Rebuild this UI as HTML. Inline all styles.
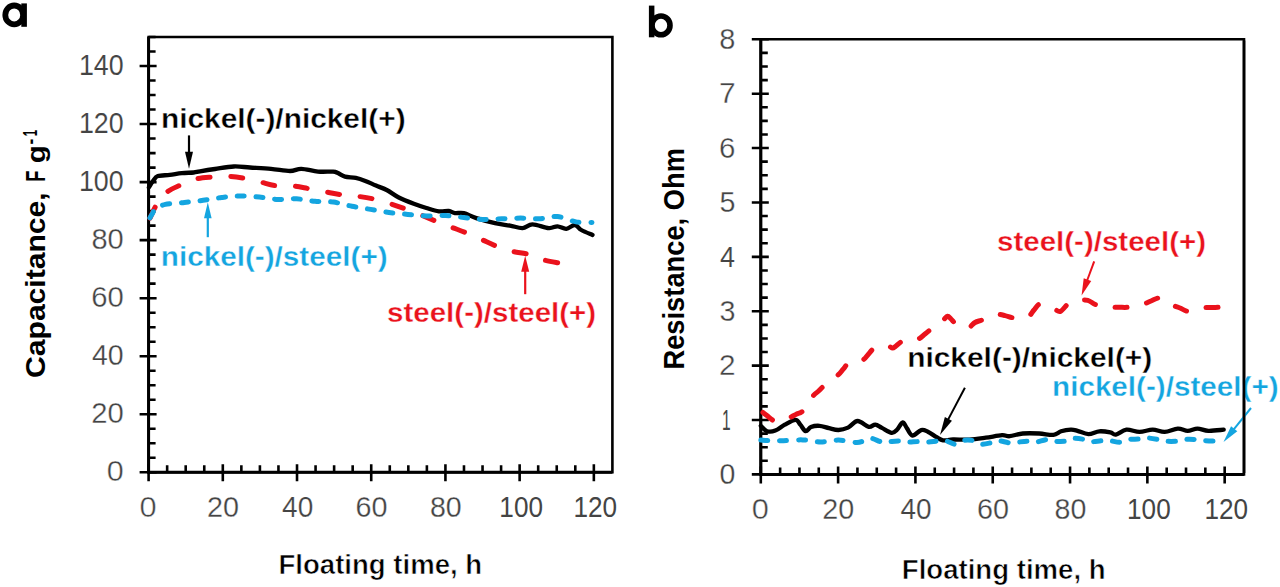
<!DOCTYPE html>
<html><head><meta charset="utf-8"><title>Capacitance and resistance vs floating time</title>
<style>
html,body{margin:0;padding:0;background:#fff;}
body{width:1280px;height:587px;overflow:hidden;}
svg{display:block;font-family:"Liberation Sans",sans-serif;font-kerning:none;font-variant-ligatures:none;}
</style></head><body>
<svg width="1280" height="587" viewBox="0 0 1280 587">
<rect width="1280" height="587" fill="#fff"/>
<path d="M148.6 37H612.4V472.3H148.6Z" fill="none" stroke="#000" stroke-width="2.6" stroke-linejoin="miter"/>
<path d="M148.6 37V472.3H612.4" fill="none" stroke="#000" stroke-width="3"/>
<path d="M139.6 472.3H156.6M148.6 457.79H155.6M148.6 443.28H155.6M148.6 428.77H155.6M139.6 414.26H156.6M148.6 399.75H155.6M148.6 385.24H155.6M148.6 370.73H155.6M139.6 356.22H156.6M148.6 341.71H155.6M148.6 327.2H155.6M148.6 312.69H155.6M139.6 298.18H156.6M148.6 283.67H155.6M148.6 269.16H155.6M148.6 254.65H155.6M139.6 240.14H156.6M148.6 225.63H155.6M148.6 211.12H155.6M148.6 196.61H155.6M139.6 182.1H156.6M148.6 167.59H155.6M148.6 153.08H155.6M148.6 138.57H155.6M139.6 124.06H156.6M148.6 109.55H155.6M148.6 95.04H155.6M148.6 80.53H155.6M139.6 66.02H156.6M148.6 51.51H155.6M148.6 37H155.6M148.6 464.3V481.3M167.15 465.3V472.3M185.7 465.3V472.3M204.26 465.3V472.3M222.81 464.3V481.3M241.36 465.3V472.3M259.91 465.3V472.3M278.46 465.3V472.3M297.02 464.3V481.3M315.57 465.3V472.3M334.12 465.3V472.3M352.67 465.3V472.3M371.22 464.3V481.3M389.78 465.3V472.3M408.33 465.3V472.3M426.88 465.3V472.3M445.43 464.3V481.3M463.98 465.3V472.3M482.54 465.3V472.3M501.09 465.3V472.3M519.64 464.3V481.3M538.19 465.3V472.3M556.74 465.3V472.3M575.3 465.3V472.3M593.85 464.3V481.3" fill="none" stroke="#000" stroke-width="2.6"/>
<text transform="matrix(0.3054 0 0 0.2965 106.81 481.3)" font-size="100" font-weight="normal" fill="#444" stroke="#fff" stroke-width="1.42">0</text>
<text transform="matrix(0.2923 0 0 0.2965 91.23 423.26)" font-size="100" font-weight="normal" fill="#444" stroke="#fff" stroke-width="1.09">20</text>
<text transform="matrix(0.2847 0 0 0.2965 92.05 365.22)" font-size="100" font-weight="normal" fill="#444" stroke="#fff" stroke-width="0.89">40</text>
<text transform="matrix(0.2924 0 0 0.2965 91.21 307.18)" font-size="100" font-weight="normal" fill="#444" stroke="#fff" stroke-width="1.09">60</text>
<text transform="matrix(0.2904 0 0 0.2965 91.44 249.14)" font-size="100" font-weight="normal" fill="#444" stroke="#fff" stroke-width="1.04">80</text>
<text transform="matrix(0.2678 0 0 0.2965 78.96 191.1)" font-size="100" font-weight="normal" fill="#444" stroke="#fff" stroke-width="0.39">100</text>
<text transform="matrix(0.2678 0 0 0.2965 78.96 133.06)" font-size="100" font-weight="normal" fill="#444" stroke="#fff" stroke-width="0.39">120</text>
<text transform="matrix(0.2678 0 0 0.2965 78.96 75.02)" font-size="100" font-weight="normal" fill="#444" stroke="#fff" stroke-width="0.39">140</text>
<text transform="matrix(0.3075 0 0 0.2993 139.55 516.9)" font-size="100" font-weight="normal" fill="#444" stroke="#fff" stroke-width="1.47">0</text>
<text transform="matrix(0.2874 0 0 0.2993 207.06 516.9)" font-size="100" font-weight="normal" fill="#444" stroke="#fff" stroke-width="0.96">20</text>
<text transform="matrix(0.2799 0 0 0.2993 282.07 516.9)" font-size="100" font-weight="normal" fill="#444" stroke="#fff" stroke-width="0.75">40</text>
<text transform="matrix(0.2875 0 0 0.2993 355.46 516.9)" font-size="100" font-weight="normal" fill="#444" stroke="#fff" stroke-width="0.96">60</text>
<text transform="matrix(0.2855 0 0 0.2993 429.89 516.9)" font-size="100" font-weight="normal" fill="#444" stroke="#fff" stroke-width="0.91">80</text>
<text transform="matrix(0.2614 0 0 0.2993 499.35 516.9)" font-size="100" font-weight="normal" fill="#444">100</text>
<text transform="matrix(0.2614 0 0 0.2993 573.56 516.9)" font-size="100" font-weight="normal" fill="#444">120</text>
<path d="M148.9 187.4C149.6 186.32 151.6 182.78 153.1 180.9C154.6 179.02 155.12 177.1 157.9 176.1C160.68 175.1 165.82 175.4 169.8 174.9C173.78 174.4 177.82 173.5 181.8 173.1C185.78 172.7 190.67 172.8 193.7 172.5C196.73 172.2 196.45 171.88 200 171.3C203.55 170.72 209.37 169.8 215 169C220.63 168.2 227.97 166.75 233.8 166.5C239.63 166.25 243.8 167.12 250 167.5C256.2 167.88 264.33 168.22 271 168.8C277.67 169.38 284.95 171 290 171C295.05 171 296.63 168.7 301.3 168.8C305.97 168.9 312.7 171.12 318 171.6C323.3 172.08 329.78 171.45 333.1 171.7C336.42 171.95 335.92 172.27 337.9 173.1C339.88 173.93 342.02 175.9 345 176.7C347.98 177.5 352.42 177.2 355.8 177.9C359.18 178.6 361.93 179.62 365.3 180.9C368.67 182.18 372.43 184.08 376 185.6C379.57 187.12 382.9 188.02 386.7 190C390.5 191.98 394.28 195.2 398.8 197.5C403.32 199.8 409.2 202.05 413.8 203.8C418.4 205.55 422.23 206.75 426.4 208C430.57 209.25 435.07 210.8 438.8 211.3C442.53 211.8 446.1 210.7 448.8 211C451.5 211.3 452.5 212.75 455 213.1C457.5 213.45 460.25 212.27 463.8 213.1C467.35 213.93 471.1 216.43 476.3 218.1C481.5 219.77 489.38 221.85 495 223.1C500.62 224.35 505.42 224.77 510 225.6C514.58 226.43 518.75 228.3 522.5 228.1C526.25 227.9 528.12 224.4 532.5 224.4C536.88 224.4 544.63 227.78 548.8 228.1C552.97 228.42 554.58 226.18 557.5 226.3C560.42 226.42 563.38 229.02 566.3 228.8C569.22 228.58 572.5 224.8 575 225C577.5 225.2 578.38 228.33 581.3 230C584.22 231.67 590.63 234.17 592.5 235" fill="none" stroke="#000" stroke-width="4.3" stroke-linecap="round" stroke-linejoin="round"/>
<path d="M148.9 220.8C150 218.42 152.82 211.07 155.5 206.5C158.18 201.93 160.82 196.98 165 193.4C169.18 189.82 175.6 187.38 180.6 185C185.6 182.62 189.77 180.43 195 179.1C200.23 177.77 206.5 177.47 212 177C217.5 176.53 222.83 176.13 228 176.3C233.17 176.47 237.67 177.07 243 178C248.33 178.93 254.67 180.63 260 181.9C265.33 183.17 269.5 184.92 275 185.6C280.5 186.28 287.37 185.48 293 186C298.63 186.52 303.37 187.72 308.8 188.7C314.23 189.68 320.08 190.88 325.6 191.9C331.12 192.92 336.58 194.07 341.9 194.8C347.22 195.53 352.18 195.6 357.5 196.3C362.82 197 368.28 197.75 373.8 199C379.32 200.25 385.4 202.17 390.6 203.8C395.8 205.43 399.93 206.93 405 208.8C410.07 210.67 415.78 212.92 421 215C426.22 217.08 431.37 219.32 436.3 221.3C441.23 223.28 445.5 224.93 450.6 226.9C455.7 228.87 461.78 231.02 466.9 233.1C472.02 235.18 476.3 237.2 481.3 239.4C486.3 241.6 491.8 244.32 496.9 246.3C502 248.28 506.58 249.95 511.9 251.3C517.22 252.65 523.6 252.98 528.8 254.4C534 255.82 538 258.35 543.1 259.8C548.2 261.25 556.68 262.55 559.4 263.1" fill="none" stroke="#ea121c" stroke-width="5" stroke-linecap="round" stroke-linejoin="round" stroke-dasharray="12 20.8" stroke-dashoffset="29.9"/>
<path d="M148.9 219.6C149.45 218.67 151.1 215.78 152.2 214C153.3 212.22 153.32 210.5 155.5 208.9C157.68 207.3 160.48 205.47 165.3 204.4C170.12 203.33 178.1 203.18 184.4 202.5C190.7 201.82 196.9 201.13 203.1 200.3C209.3 199.47 215.4 198.22 221.6 197.5C227.8 196.78 234 196.07 240.3 196C246.6 195.93 253.15 196.53 259.4 197.1C265.65 197.67 271.6 199.12 277.8 199.4C284 199.68 290.4 198.48 296.6 198.8C302.8 199.12 308.87 200.75 315 201.3C321.13 201.85 327.25 201.27 333.4 202.1C339.55 202.93 345.7 205.08 351.9 206.3C358.1 207.52 364.42 208.37 370.6 209.4C376.78 210.43 382.8 211.67 389 212.5C395.2 213.33 401.53 213.82 407.8 214.4C414.07 214.98 420.3 215.8 426.6 216C432.9 216.2 439.4 215.35 445.6 215.6C451.8 215.85 457.6 216.87 463.8 217.5C470 218.13 476.5 219.18 482.8 219.4C489.1 219.62 495.3 219.02 501.6 218.8C507.9 218.58 514.37 218.1 520.6 218.1C526.83 218.1 532.85 219.07 539 218.8C545.15 218.53 551.33 215.98 557.5 216.5C563.67 217.02 570.25 220.9 576 221.9C581.75 222.9 589.33 222.4 592 222.5" fill="none" stroke="#14a5e0" stroke-width="5" stroke-linecap="round" stroke-linejoin="round" stroke-dasharray="7 11.75" stroke-dashoffset="16.6"/>
<text transform="matrix(0.2986 0 0 0.2746 160.93 127.5)" font-size="100" font-weight="bold" fill="#000" stroke="#fff" stroke-width="1.33">nickel(-)/nickel(+)</text>
<text transform="matrix(0.2971 0 0 0.2691 160.74 266.4)" font-size="100" font-weight="bold" fill="#14a5e0" stroke="#fff" stroke-width="1.27">nickel(-)/steel(+)</text>
<text transform="matrix(0.2951 0 0 0.2733 387.06 321.8)" font-size="100" font-weight="bold" fill="#ea121c" stroke="#fff" stroke-width="1.18">steel(-)/steel(+)</text>
<line x1="189" y1="135.4" x2="189" y2="152.8" stroke="#000" stroke-width="2.2"/>
<polygon points="189,168.8 185,151.8 193,151.8" fill="#000"/>
<line x1="207.8" y1="237.2" x2="207.8" y2="217.3" stroke="#14a5e0" stroke-width="2.2"/>
<polygon points="207.8,202.3 211.6,218.3 204,218.3" fill="#14a5e0"/>
<line x1="525.2" y1="294.2" x2="525.2" y2="270.8" stroke="#ea121c" stroke-width="2.2"/>
<polygon points="525.2,255.8 529.2,271.8 521.2,271.8" fill="#ea121c"/>
<path d="M760.8 39.3H1244V474.4H760.8Z" fill="none" stroke="#000" stroke-width="2.6" stroke-linejoin="miter"/>
<path d="M760.8 39.3V474.4H1244" fill="none" stroke="#000" stroke-width="3"/>
<path d="M751.8 474.4H768.8M760.8 460.8H767.8M760.8 447.21H767.8M760.8 433.61H767.8M751.8 420.01H768.8M760.8 406.42H767.8M760.8 392.82H767.8M760.8 379.22H767.8M751.8 365.62H768.8M760.8 352.03H767.8M760.8 338.43H767.8M760.8 324.83H767.8M751.8 311.24H768.8M760.8 297.64H767.8M760.8 284.04H767.8M760.8 270.45H767.8M751.8 256.85H768.8M760.8 243.25H767.8M760.8 229.66H767.8M760.8 216.06H767.8M751.8 202.46H768.8M760.8 188.87H767.8M760.8 175.27H767.8M760.8 161.67H767.8M751.8 148.07H768.8M760.8 134.48H767.8M760.8 120.88H767.8M760.8 107.28H767.8M751.8 93.69H768.8M760.8 80.09H767.8M760.8 66.49H767.8M760.8 52.9H767.8M751.8 39.3H768.8M760.8 466.4V483.4M780.13 467.4V474.4M799.46 467.4V474.4M818.78 467.4V474.4M838.11 466.4V483.4M857.44 467.4V474.4M876.77 467.4V474.4M896.1 467.4V474.4M915.42 466.4V483.4M934.75 467.4V474.4M954.08 467.4V474.4M973.41 467.4V474.4M992.74 466.4V483.4M1012.06 467.4V474.4M1031.39 467.4V474.4M1050.72 467.4V474.4M1070.05 466.4V483.4M1089.38 467.4V474.4M1108.7 467.4V474.4M1128.03 467.4V474.4M1147.36 466.4V483.4M1166.69 467.4V474.4M1186.02 467.4V474.4M1205.34 467.4V474.4M1224.67 466.4V483.4" fill="none" stroke="#000" stroke-width="2.6"/>
<text transform="matrix(0.2845 0 0 0.2965 719.49 484.1)" font-size="100" font-weight="normal" fill="#444" stroke="#fff" stroke-width="0.88">0</text>
<text transform="matrix(0.1554 0 0 0.2965 722.12 429.71)" font-size="100" font-weight="normal" fill="#444">1</text>
<text transform="matrix(0.2985 0 0 0.2965 719.1 375.32)" font-size="100" font-weight="normal" fill="#444" stroke="#fff" stroke-width="1.25">2</text>
<text transform="matrix(0.2868 0 0 0.2965 719.51 320.94)" font-size="100" font-weight="normal" fill="#444" stroke="#fff" stroke-width="0.95">3</text>
<text transform="matrix(0.2699 0 0 0.2965 719.98 266.55)" font-size="100" font-weight="normal" fill="#444" stroke="#fff" stroke-width="0.45">4</text>
<text transform="matrix(0.2868 0 0 0.2965 719.45 212.16)" font-size="100" font-weight="normal" fill="#444" stroke="#fff" stroke-width="0.95">5</text>
<text transform="matrix(0.2947 0 0 0.2965 719.1 157.77)" font-size="100" font-weight="normal" fill="#444" stroke="#fff" stroke-width="1.16">6</text>
<text transform="matrix(0.2992 0 0 0.2965 719.07 103.39)" font-size="100" font-weight="normal" fill="#444" stroke="#fff" stroke-width="1.27">7</text>
<text transform="matrix(0.2898 0 0 0.2965 719.34 49)" font-size="100" font-weight="normal" fill="#444" stroke="#fff" stroke-width="1.03">8</text>
<text transform="matrix(0.3075 0 0 0.2879 751.75 519.3)" font-size="100" font-weight="normal" fill="#444" stroke="#fff" stroke-width="1.47">0</text>
<text transform="matrix(0.2874 0 0 0.2879 822.37 519.3)" font-size="100" font-weight="normal" fill="#444" stroke="#fff" stroke-width="0.96">20</text>
<text transform="matrix(0.2799 0 0 0.2879 900.48 519.3)" font-size="100" font-weight="normal" fill="#444" stroke="#fff" stroke-width="0.75">40</text>
<text transform="matrix(0.2875 0 0 0.2879 976.98 519.3)" font-size="100" font-weight="normal" fill="#444" stroke="#fff" stroke-width="0.96">60</text>
<text transform="matrix(0.2855 0 0 0.2879 1054.51 519.3)" font-size="100" font-weight="normal" fill="#444" stroke="#fff" stroke-width="0.91">80</text>
<text transform="matrix(0.2614 0 0 0.2879 1127.07 519.3)" font-size="100" font-weight="normal" fill="#444">100</text>
<text transform="matrix(0.2614 0 0 0.2879 1204.38 519.3)" font-size="100" font-weight="normal" fill="#444">120</text>
<path d="M760.8 425.8C761.83 426.7 764.58 430.4 767 431.2C769.42 432 772.33 431.7 775.3 430.6C778.27 429.5 781.42 426.4 784.8 424.6C788.18 422.8 793.02 419.8 795.6 419.8C798.18 419.8 798.62 422.7 800.3 424.6C801.98 426.5 803.92 430.8 805.7 431.2C807.48 431.6 808.72 427.9 811 427C813.28 426.1 816.4 425.6 819.4 425.8C822.4 426 825.82 427.5 829 428.2C832.18 428.9 835.33 430.1 838.5 430C841.67 429.9 844.82 429.1 848 427.6C851.18 426.1 854.15 421.13 857.6 421C861.05 420.87 865.75 426.2 868.7 426.8C871.65 427.4 873.1 424.42 875.3 424.6C877.5 424.78 879.17 426.53 881.9 427.9C884.63 429.27 889.15 432.53 891.7 432.8C894.25 433.07 895.37 431.23 897.2 429.5C899.03 427.77 901.07 422.58 902.7 422.4C904.33 422.22 905.37 426.22 907 428.4C908.63 430.58 910.13 435.22 912.5 435.5C914.87 435.78 918.65 430.73 921.2 430.1C923.75 429.47 925.23 430.52 927.8 431.7C930.37 432.88 934.07 435.77 936.6 437.2C939.13 438.63 940.27 439.92 943 440.3C945.73 440.68 948.6 439.62 953 439.5C957.4 439.38 963.93 439.9 969.4 439.6C974.87 439.3 980.37 438.43 985.8 437.7C991.23 436.97 998.02 435.45 1002 435.2C1005.98 434.95 1006.23 436.48 1009.7 436.2C1013.17 435.92 1017.88 433.95 1022.8 433.5C1027.72 433.05 1034.1 433.27 1039.2 433.5C1044.3 433.73 1049.75 435.27 1053.4 434.9C1057.05 434.53 1058.18 432.17 1061.1 431.3C1064.02 430.43 1068.17 429.78 1070.9 429.7C1073.63 429.62 1074.58 430.07 1077.5 430.8C1080.42 431.53 1084.75 434.02 1088.4 434.1C1092.05 434.18 1095.75 431.58 1099.4 431.3C1103.05 431.02 1107.57 431.85 1110.3 432.4C1113.03 432.95 1113.12 435.05 1115.8 434.6C1118.48 434.15 1122.45 430.15 1126.4 429.7C1130.35 429.25 1135.12 431.9 1139.5 431.9C1143.88 431.9 1148.5 429.7 1152.7 429.7C1156.9 429.7 1160.52 432.08 1164.7 431.9C1168.88 431.72 1173.97 428.78 1177.8 428.6C1181.63 428.42 1184.42 430.8 1187.7 430.8C1190.98 430.8 1194.05 428.6 1197.5 428.6C1200.95 428.6 1204.03 430.62 1208.4 430.8C1212.77 430.98 1221.15 429.88 1223.7 429.7" fill="none" stroke="#000" stroke-width="4.3" stroke-linecap="round" stroke-linejoin="round"/>
<path d="M760.4 410.5C761.48 411.33 764.73 413.83 766.9 415.5C769.07 417.17 771.13 419.5 773.4 420.5C775.67 421.5 777.95 421.88 780.5 421.5C783.05 421.12 786.12 419.38 788.7 418.2C791.28 417.02 793.57 415.68 796 414.4C798.43 413.12 800.55 413.45 803.3 410.5C806.05 407.55 809.95 399.95 812.5 396.7C815.05 393.45 816.57 392.92 818.6 391C820.63 389.08 821.5 387.83 824.7 385.2C827.9 382.57 834.72 377.88 837.8 375.2C840.88 372.52 841.42 371.13 843.2 369.1C844.98 367.07 846.45 364.43 848.5 363C850.55 361.57 853.08 361.02 855.5 360.5C857.92 359.98 860.85 360.95 863 359.9C865.15 358.85 866.6 356.12 868.4 354.2C870.2 352.28 871.7 349.77 873.8 348.4C875.9 347.03 878.5 346.35 881 346C883.5 345.65 886.88 345.95 888.8 346.3C890.72 346.65 891.3 348.15 892.5 348.1C893.7 348.05 894.23 347.25 896 346C897.77 344.75 900.68 341.68 903.1 340.6C905.52 339.52 907.88 339.8 910.5 339.5C913.12 339.2 916.38 339.72 918.8 338.8C921.22 337.88 922.92 335.67 925 334C927.08 332.33 929.3 330.47 931.3 328.8C933.3 327.13 935.03 325.47 937 324C938.97 322.53 941.35 321.28 943.1 320C944.85 318.72 946.18 316.47 947.5 316.3C948.82 316.13 949.75 317.87 951 319C952.25 320.13 953.33 321.85 955 323.1C956.67 324.35 958.82 325.67 961 326.5C963.18 327.33 965.77 328.77 968.1 328.1C970.43 327.43 972.7 323.85 975 322.5C977.3 321.15 979.4 321.08 981.9 320C984.4 318.92 987.4 316.93 990 316C992.6 315.07 995 314.47 997.5 314.4C1000 314.33 1002.4 315.03 1005 315.6C1007.6 316.17 1010.43 317.4 1013.1 317.8C1015.77 318.2 1018.38 318.25 1021 318C1023.62 317.75 1026.63 317.63 1028.8 316.3C1030.97 314.97 1032.23 312.02 1034 310C1035.77 307.98 1037.23 304.87 1039.4 304.2C1041.57 303.53 1044.53 305.22 1047 306C1049.47 306.78 1051.95 308.02 1054.2 308.9C1056.45 309.78 1058.15 312.22 1060.5 311.3C1062.85 310.38 1066.05 305.2 1068.3 303.4C1070.55 301.6 1072.18 301.07 1074 300.5C1075.82 299.93 1076.9 300.03 1079.2 300C1081.5 299.97 1085.2 299.6 1087.8 300.3C1090.4 301 1092.43 303.17 1094.8 304.2C1097.17 305.23 1099.38 305.98 1102 306.5C1104.62 307.02 1107.67 307.17 1110.5 307.3C1113.33 307.43 1116.13 307.3 1119 307.3C1121.87 307.3 1125.03 307.52 1127.7 307.3C1130.37 307.08 1132.4 306.52 1135 306C1137.6 305.48 1140.63 305.03 1143.3 304.2C1145.97 303.37 1148.4 302.03 1151 301C1153.6 299.97 1156.57 298.08 1158.9 298C1161.23 297.92 1162.78 299.33 1165 300.5C1167.22 301.67 1169.7 303.75 1172.2 305C1174.7 306.25 1177.4 306.95 1180 308C1182.6 309.05 1185.3 311.05 1187.8 311.3C1190.3 311.55 1192.4 310.08 1195 309.5C1197.6 308.92 1200.57 308.13 1203.4 307.8C1206.23 307.47 1209.13 307.58 1212 307.5C1214.87 307.42 1219.17 307.33 1220.6 307.3" fill="none" stroke="#ea121c" stroke-width="5" stroke-linecap="round" stroke-linejoin="round" stroke-dasharray="12 20" stroke-dashoffset="28.7"/>
<path d="M760.8 440.1C762.42 440.2 766.7 440.6 770.5 440.7C774.3 440.8 778.23 440.83 783.6 440.7C788.97 440.57 796.53 439.7 802.7 439.9C808.87 440.1 814.63 441.87 820.6 441.9C826.57 441.93 832.53 440 838.5 440.1C844.47 440.2 852.27 442.35 856.4 442.5C860.53 442.65 860.88 441.7 863.3 441C865.72 440.3 867.8 438.12 870.9 438.3C874 438.48 878.88 441.55 881.9 442.1C884.92 442.65 886 441.78 889 441.6C892 441.42 896.9 440.92 899.9 441C902.9 441.08 903.9 442 907 442.1C910.1 442.2 915.3 441.6 918.5 441.6C921.7 441.6 923 442.2 926.2 442.1C929.4 442 934.52 441.27 937.7 441C940.88 440.73 942.38 439.95 945.3 440.5C948.22 441.05 952.37 444.3 955.2 444.3C958.03 444.3 959.38 441.13 962.3 440.5C965.22 439.87 969.7 439.87 972.7 440.5C975.7 441.13 977.22 443.93 980.3 444.3C983.38 444.67 988.22 443.32 991.2 442.7C994.18 442.08 995.22 440.58 998.2 440.6C1001.18 440.62 1006.1 442.52 1009.1 442.8C1012.1 443.08 1013.1 442.57 1016.2 442.3C1019.3 442.03 1024.5 441.2 1027.7 441.2C1030.9 441.2 1032.2 442.58 1035.4 442.3C1038.6 442.02 1043.8 439.68 1046.9 439.5C1050 439.32 1050.9 440.92 1054 441.2C1057.1 441.48 1062.4 441.67 1065.5 441.2C1068.6 440.73 1069.6 438.72 1072.6 438.4C1075.6 438.08 1080.58 438.75 1083.5 439.3C1086.42 439.85 1087.08 441.45 1090.1 441.7C1093.12 441.95 1098.42 440.98 1101.6 440.8C1104.78 440.62 1106.1 440.35 1109.2 440.6C1112.3 440.85 1117.07 442.48 1120.2 442.3C1123.33 442.12 1124.78 440.05 1128 439.5C1131.22 438.95 1136.4 439.27 1139.5 439C1142.6 438.73 1143.5 437.82 1146.6 437.9C1149.7 437.98 1155 438.95 1158.1 439.5C1161.2 440.05 1162.1 440.92 1165.2 441.2C1168.3 441.48 1173.5 441.48 1176.7 441.2C1179.9 440.92 1181.3 439.78 1184.4 439.5C1187.5 439.22 1192.2 439.32 1195.3 439.5C1198.4 439.68 1199.72 440.32 1203 440.6C1206.28 440.88 1211.67 440.97 1215 441.2C1218.33 441.43 1221.67 441.87 1223 442" fill="none" stroke="#14a5e0" stroke-width="5" stroke-linecap="round" stroke-linejoin="round" stroke-dasharray="7 11.9"/>
<text transform="matrix(0.2992 0 0 0.2719 907.13 367)" font-size="100" font-weight="bold" fill="#000" stroke="#fff" stroke-width="1.36">nickel(-)/nickel(+)</text>
<text transform="matrix(0.2966 0 0 0.2705 1052.04 395.6)" font-size="100" font-weight="bold" fill="#14a5e0" stroke="#fff" stroke-width="1.25">nickel(-)/steel(+)</text>
<text transform="matrix(0.2951 0 0 0.2719 997.06 251.4)" font-size="100" font-weight="bold" fill="#ea121c" stroke="#fff" stroke-width="1.18">steel(-)/steel(+)</text>
<line x1="964.9" y1="387.8" x2="947.95" y2="419.87" stroke="#000" stroke-width="2"/>
<polygon points="940,434.9 944.88,417.12 951.95,420.86" fill="#000"/>
<line x1="1094.2" y1="261.3" x2="1087.13" y2="280.49" stroke="#ea121c" stroke-width="2"/>
<polygon points="1081.6,295.5 1083.72,278.17 1091.23,280.93" fill="#ea121c"/>
<line x1="1251" y1="408" x2="1233.56" y2="429.56" stroke="#14a5e0" stroke-width="2"/>
<polygon points="1223.5,442 1231.08,426.27 1237.3,431.3" fill="#14a5e0"/>
<text transform="matrix(0.2758 0 0 0.2774 278.46 574)" font-size="100" font-weight="bold" fill="#000" stroke="#fff" stroke-width="2.12">Floating time, h</text>
<text transform="matrix(0.2758 0 0 0.2691 901.86 578.7)" font-size="100" font-weight="bold" fill="#000" stroke="#fff" stroke-width="2.12">Floating time, h</text>
<text transform="matrix(0 -0.3009 0.275 0 44.9 377.93)" font-size="100" font-weight="bold" fill="#000">Capacitance,</text>
<text transform="matrix(0 -0.1813 0.282 0 44.9 181.81)" font-size="100" font-weight="bold" fill="#000">F</text>
<text transform="matrix(0 -0.2943 0.2637 0 44.9 163.21)" font-size="100" font-weight="bold" fill="#000">g</text>
<text transform="matrix(0 -0.1733 0.2006 0 36.7 144.38)" font-size="100" font-weight="bold" fill="#000">-</text>
<text transform="matrix(0 -0.116 0.2006 0 36.7 136.13)" font-size="100" font-weight="bold" fill="#000">1</text>
<text transform="matrix(0 -0.273 0.2864 0 683.6 369.53)" font-size="100" font-weight="bold" fill="#000">Resistance, Ohm</text>
<path d="M1244 40.6V473.1" stroke="#000" stroke-width="2.6"/>
<ellipse cx="14.2" cy="14.9" rx="8.9" ry="9.4" fill="none" stroke="#000" stroke-width="5.8"/>
<rect x="21.3" y="3.4" width="5.6" height="23.4" fill="#000"/>
<ellipse cx="661" cy="25.4" rx="9" ry="9.4" fill="none" stroke="#000" stroke-width="5.6"/>
<rect x="648.9" y="5.6" width="5.5" height="31.7" fill="#000"/>
</svg>
</body></html>
